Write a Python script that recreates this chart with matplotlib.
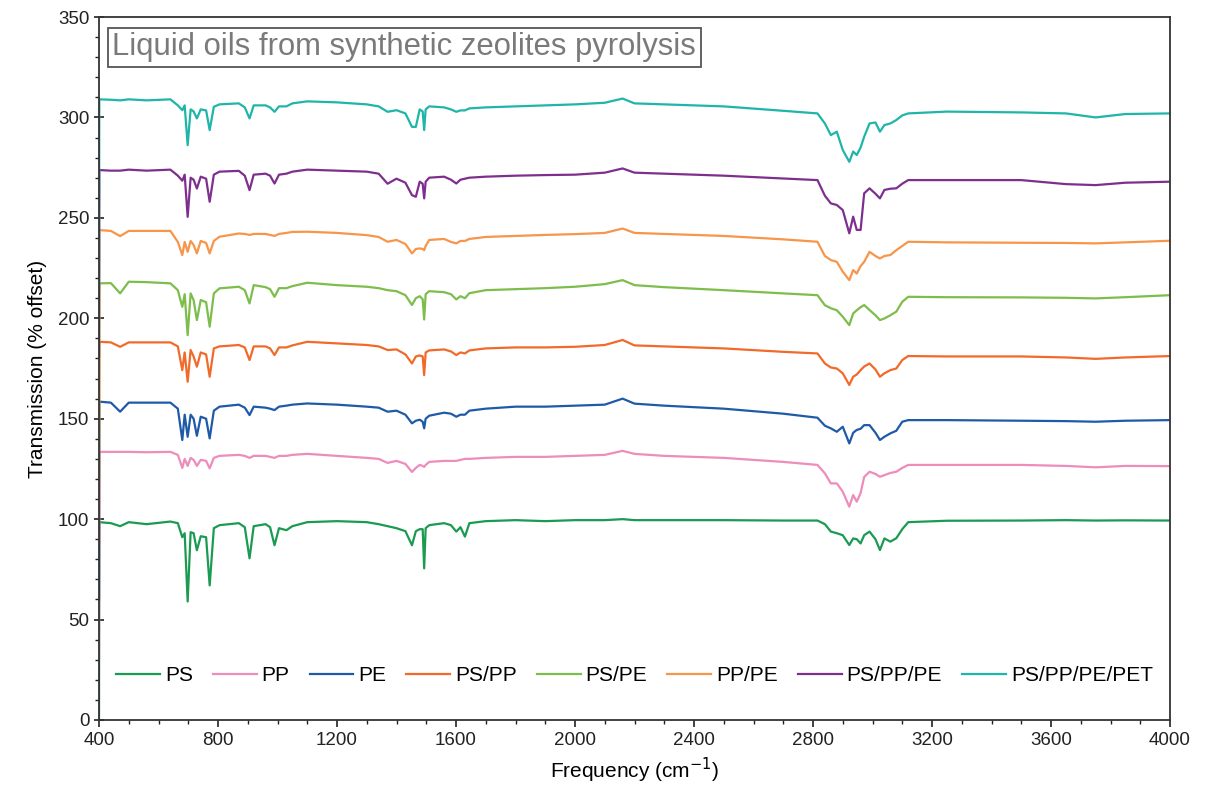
import matplotlib
matplotlib.use("Agg")
import matplotlib.pyplot as plt
from matplotlib.ticker import MultipleLocator

plt.rcParams['font.family'] = ['Liberation Sans', 'DejaVu Sans']

wavenumber = [400, 401, 440, 471, 500, 560, 640, 665, 680, 688, 698, 708, 718, 729, 742, 760,
              772, 786, 805, 870, 890, 906, 920, 960, 975, 990, 1005, 1030, 1050, 1100, 1200,
              1300, 1340, 1370, 1400, 1430, 1452, 1465, 1478, 1488, 1493, 1498, 1510, 1560,
              1583, 1601, 1615, 1630, 1645, 1700, 1800, 1900, 2000, 2100, 2160, 2200, 2300,
              2500, 2700, 2815, 2840, 2860, 2880, 2900, 2922, 2935, 2947, 2960, 2972, 2990,
              3010, 3025, 3040, 3060, 3080, 3100, 3120, 3250, 3500, 3650, 3750, 3850, 4000]

ps = [0, 98.5, 98, 96.5, 98.5, 97.5, 98.8, 98, 91, 93, 59, 93.5, 93, 84.5, 91.5, 91,
      67, 95.5, 97, 98, 96, 80.5, 96.5, 97.5, 96, 87, 95.5, 94.5, 96.5, 98.5, 99,
      98.5, 97.5, 96.5, 95.5, 94, 87, 94, 95, 95, 75.5, 95.5, 97, 98,
      97, 93.8, 96, 91.3, 98, 99, 99.5, 99, 99.5, 99.5, 100, 99.5, 99.5,
      99.5, 99.3, 99.3, 97.5, 93.8, 93, 92, 87.1, 90.4, 90, 87.9, 92, 93.8,
      90, 84.6, 90.4, 88.8, 90.5, 95, 98.5, 99.2, 99.3, 99.5, 99.3, 99.4, 99.3]

pp = [30, 133.5, 133.5, 133.5, 133.5, 133.3, 133.5, 132, 125.5, 130, 126.5, 130.5, 129.5, 126.5, 129.5, 129,
      125.3, 130.5, 131.5, 132, 131.5, 130.5, 131.5, 131.5, 131, 130.5, 131.5, 131.5, 132, 132.5, 131.5,
      130.5, 130, 128, 129, 127.5, 123.5, 125.5, 127, 126.5, 126, 127, 128.5, 129,
      129, 129, 129.5, 130, 130, 130.5, 131, 131, 131.5, 132, 134, 132.5, 131.5,
      130.5, 128.5, 127, 122.8, 117.8, 117.8, 113.7, 106.2, 112, 108.7, 113, 121, 123.6,
      122.5, 121.1, 121.9, 123, 123.6, 125.5, 127, 127, 127, 126.5, 125.8, 126.5, 126.4]

pe = [60, 158.5, 158, 153.5, 158, 158, 158, 155, 139.4, 152, 141, 152, 150, 141.5, 151, 150,
      140.2, 154, 156, 157, 155.5, 151.8, 156, 155.5, 155, 154.3, 156, 156.5, 157, 157.6, 157,
      156, 155.5, 153.5, 154, 152, 147.7, 149, 149.5, 148.5, 145.2, 150, 151.5, 153,
      152.5, 151, 152, 152, 154, 155, 156, 156, 156.5, 157, 160, 157.5, 156.5,
      155, 152.5, 150.5, 146.5, 145.2, 143.5, 146, 137.7, 143, 144.4, 145, 146.8, 146.8,
      143, 139.4, 141, 142.7, 144, 148.5, 149.3, 149.3, 149, 148.8, 148.5, 149, 149.3]

ps_pp = [88, 188.3, 188, 185.8, 188, 188, 188, 186, 174.2, 183, 168.4, 184.2, 181, 175.9, 183, 182,
         170.9, 185, 186, 186.7, 185.5, 179.2, 186, 186, 185, 181.7, 185.5, 185.5, 186.5, 188.3, 187.5,
         186.7, 186, 184.2, 184.5, 182, 177.5, 181, 181.5, 181, 171.7, 183, 184, 184.5,
         183.5, 181.7, 183, 182.5, 184, 185, 185.5, 185.5, 185.8, 186.7, 189.2, 186.5, 186,
         185, 183.3, 182.5, 177.5, 175.5, 175, 172.6, 166.8, 170.9, 172, 174.2, 176, 177.5,
         174.5, 170.9, 172.6, 174.2, 175, 179.2, 181.2, 181, 181, 180.5, 179.8, 180.5, 181.2]

ps_pe = [119, 217.4, 217.5, 212.4, 218.2, 218, 217.4, 214, 205.7, 212, 191.6, 212.4, 209, 199.1, 209.1, 208,
         195.8, 212.4, 214.9, 215.7, 214, 207.4, 216.5, 215.5, 214.5, 210.7, 215, 215, 216, 217.7, 216.5,
         215.7, 215, 214, 213.5, 211.5, 206.6, 210, 211, 209.5, 199.4, 212, 213.5, 213,
         212, 209.4, 211, 210, 212.5, 214, 214.5, 215, 215.7, 217, 219, 216.5, 215.5,
         214, 212.4, 211.5, 206.5, 205, 204, 200.8, 196.6, 202.4, 204, 205.5, 206.6, 204.1,
         201.5, 199.1, 199.9, 201.5, 203.3, 208.2, 210.7, 210.5, 210.4, 210.2, 209.9, 210.5, 211.5]

pp_pe = [144, 243.9, 243.5, 240.9, 243.5, 243.5, 243.5, 238, 231.5, 238, 233.1, 238.5, 236.5, 232.3, 238.5, 237.5,
         232.3, 238.5, 240.6, 242.2, 242, 241.5, 242, 242, 241.5, 241, 242, 242.5, 243, 243.1, 242.5,
         241.4, 240.5, 238.1, 239, 237, 232.3, 234.5, 234.8, 234.5, 233.9, 236, 239, 239.5,
         238, 237.3, 238.5, 238.5, 239.5, 240.5, 241, 241.5, 241.9, 242.5, 244.7, 242.5, 242,
         241, 239.3, 238.1, 231, 229, 228.1, 223.2, 219, 224, 222.3, 226, 228.1, 233.1,
         231, 229.8, 231, 231.5, 233.9, 236, 238.1, 237.8, 237.6, 237.5, 237.3, 237.8, 238.6]

ps_pp_pe = [181, 273.8, 273.5, 273.5, 274, 273.5, 274, 271, 268.5, 271.5, 250.5, 270, 269, 264.6, 270.5, 269.5,
            258, 271.5, 273, 273.4, 271, 263.8, 271.5, 272, 271, 267.1, 271.5, 272, 273, 274, 273.5,
            273, 272, 267, 269.5, 267.5, 261.3, 260.5, 268, 267, 259.7, 268, 270, 270.5,
            269, 267.1, 269, 269.5, 270, 270.5, 271, 271.3, 271.5, 272.5, 274.6, 272.5, 272,
            271, 269.6, 268.8, 261, 257.2, 256.4, 253.9, 242.3, 250.6, 244.0, 244.0, 262.2, 264.7,
            262, 259.7, 263.9, 264.5, 264.7, 267, 268.8, 268.8, 268.8, 266.8, 266.3, 267.5, 268]

ps_pp_pe_pet = [214, 309, 308.8, 308.5, 309, 308.5, 309, 306, 303.6, 306, 286.2, 304, 303, 299.5, 304, 303.5,
                293.7, 305.3, 306.5, 307, 305, 299.5, 306, 306, 305, 302.8, 305.5, 305.5, 307, 308, 307.5,
                306.5, 305.5, 302.8, 303.6, 302, 295.3, 295.3, 304, 303, 293.7, 304, 305.5, 305,
                304, 302.8, 303.5, 303.5, 304.5, 305, 305.5, 306, 306.5, 307.3, 309.4, 307, 306.5,
                305.5, 303.3, 302, 297, 291.2, 292.9, 283.8, 277.9, 283, 281.3, 285, 290.4, 297,
                297.5, 292.9, 296.2, 297, 298.7, 301, 302, 302.9, 302.5, 302, 300, 301.7, 302]

labels = ['PS', 'PP', 'PE', 'PS/PP', 'PS/PE', 'PP/PE', 'PS/PP/PE', 'PS/PP/PE/PET']
colors = ['#1b9a52', '#ee8cbc', '#1f5aa8', '#f26a2a', '#7dbd4c', '#f7954a', '#7e2f8e', '#1fb5a8']
series = [ps, pp, pe, ps_pp, ps_pe, pp_pe, ps_pp_pe, ps_pp_pe_pet]

fig = plt.figure(figsize=(12.05, 7.97), dpi=100)
ax = fig.add_axes([99 / 1205, 1 - 720 / 797, (1170 - 99) / 1205, (720 - 17) / 797])

for lab, col, vals in zip(labels, colors, series):
    ax.plot(wavenumber, vals, color=col, lw=1.6, label=lab)

ax.set_xlim(400, 4000)
ax.set_ylim(0, 350)
ax.xaxis.set_major_locator(MultipleLocator(400))
ax.xaxis.set_minor_locator(MultipleLocator(100))
ax.yaxis.set_major_locator(MultipleLocator(50))
ax.yaxis.set_minor_locator(MultipleLocator(10))
ax.tick_params(axis='both', which='major', labelsize=13.5, length=5, width=1.2,
               direction='out', colors='#222222')
ax.tick_params(axis='y', which='major', direction='inout', length=7)
ax.tick_params(axis='both', which='minor', length=3, width=1, direction='out', colors='#222222')
for sp in ax.spines.values():
    sp.set_color('#333333')
    sp.set_linewidth(1.3)

ax.set_xlabel('Frequency (cm$^{-1}$)', fontsize=15, labelpad=5)
ax.set_ylabel('Transmission (% offset)', fontsize=15, labelpad=8)

ax.text(0.0125, 0.978, 'Liquid oils from synthetic zeolites pyrolysis', transform=ax.transAxes,
        fontsize=22.3, color='#7a7a7a', ha='left', va='top',
        bbox=dict(boxstyle='square,pad=0.15', fc='white', ec='#555555', lw=1.3))

leg = ax.legend(loc='center', bbox_to_anchor=(0.5, 0.063), ncol=8, frameon=False,
                fontsize=15, handlelength=2.1, handletextpad=0.25, columnspacing=0.95)

fig.savefig('out.png', dpi=100)
